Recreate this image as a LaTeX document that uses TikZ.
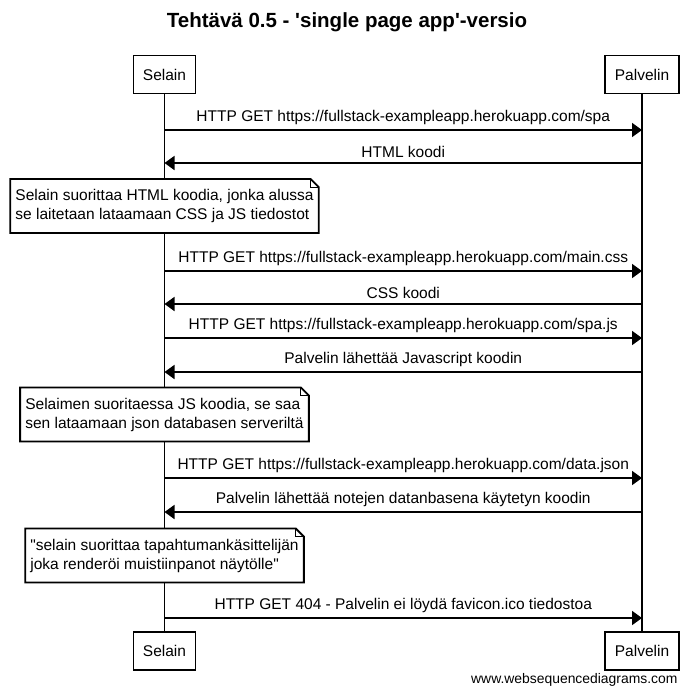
\documentclass[tikz,border=0pt]{standalone}
\usepackage{fontspec}
\setmainfont[Ligatures=TeXOff]{Liberation Sans}
\usetikzlibrary{calc,arrows.meta}

\tikzset{
  actor/.style={draw,line width=1.8pt,fill=white,minimum height=38pt,inner xsep=9.5pt},
  lifeline/.style={line width=1.8pt},
  msg/.style={line width=1.8pt,-{Triangle[length=10pt,width=14pt]}},
  lbl/.style={midway,above=4pt,inner sep=0pt},
  notebox/.style={fill=white,align=left,inner xsep=5pt,inner ysep=10pt}
}

\begin{document}
\begin{tikzpicture}[x=1pt,y=-1pt,font=\fontsize{15.5}{19}\selectfont]
                \useasboundingbox(0,0)rectangle(695,694);
                \node[font=\bfseries\fontsize{20.5}{22}\selectfont](title)at(347,22){Tehtävä 0.5 - 'single page app'-versio};
                \node[actor](sel)at(164.5,74.5){Selain};
                \node[actor](pal)at(642,74.5){Palvelin};
                \node[actor](selb)at(164.5,651){Selain};
                \node[actor](palb)at(642,651){Palvelin};
                \draw[lifeline](sel)--(selb);
                \draw[lifeline](pal)--(palb);
                \foreach \i/\y in {1/130,2/163,3/271,4/304,5/338,6/372,7/478,8/512,9/618}{
                    \coordinate(s\i)at(sel |- 0,\y);
                    \coordinate(p\i)at(pal |- 0,\y);
                }
                \draw[msg](s1)--node[lbl]{HTTP GET https://fullstack-exampleapp.herokuapp.com/spa}(p1);
                \draw[msg](p2)--node[lbl]{HTML koodi}(s2);
                \draw[msg](s3)--node[lbl]{HTTP GET https://fullstack-exampleapp.herokuapp.com/main.css}(p3);
                \draw[msg](p4)--node[lbl]{CSS koodi}(s4);
                \draw[msg](s5)--node[lbl]{HTTP GET https://fullstack-exampleapp.herokuapp.com/spa.js}(p5);
                \draw[msg](p6)--node[lbl]{Palvelin lähettää Javascript koodin}(s6);
                \draw[msg](s7)--node[lbl]{HTTP GET https://fullstack-exampleapp.herokuapp.com/data.json}(p7);
                \draw[msg](p8)--node[lbl]{Palvelin lähettää notejen datanbasena käytetyn koodin}(s8);
                \draw[msg](s9)--node[lbl]{HTTP GET 404 - Palvelin ei löydä favicon.ico tiedostoa}(p9);
                \node[notebox](n1)at(sel |- 0,206){Selain suorittaa HTML koodia, jonka alussa\\se laitetaan lataamaan CSS ja JS tiedostot};
                \node[notebox](n2)at(sel |- 0,414.5){Selaimen suoritaessa JS koodia, se saa\\sen lataamaan json databasen serveriltä};
                \node[notebox](n3)at(sel |- 0,555.5){"selain suorittaa tapahtumankäsittelijän\\joka renderöi muistiinpanot näytölle"};
                \foreach \n in {n1,n2,n3}{
                    \draw[lifeline,line join=miter](\n.north west)--($(\n.north east)+(-8,0)$)--($(\n.north east)+(0,8)$)|-(\n.south west)--cycle;
                    \draw[line width=0.8pt]($(\n.north east)+(-8,0)$)--($(\n.north east)+(-8,8)$)--($(\n.north east)+(0,8)$);
                }
                \node[anchor=east,font=\fontsize{13.9}{15}\selectfont](wsd)at(681,680){www.websequencediagrams.com};
            \end{tikzpicture}
\end{document}
